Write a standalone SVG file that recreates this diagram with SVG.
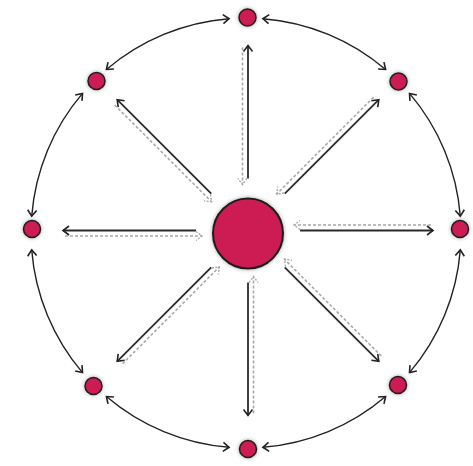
<svg xmlns="http://www.w3.org/2000/svg" width="473" height="466" viewBox="0 0 473 466">
<defs>
<style>
.node{fill:#cc1a52;stroke:#1e1e1e;stroke-width:1.5;filter:url(#glow)}
.arc{fill:none;stroke:#222;stroke-width:1.4;marker-start:url(#ah);marker-end:url(#ah)}
.solid{stroke:#2a2a2a;stroke-width:1.8;marker-end:url(#ah)}
.dash{stroke:#a8a8a8;stroke-width:1.6;stroke-dasharray:3 2;marker-end:url(#ahg)}
</style>
<filter id="glow" x="-50%" y="-50%" width="200%" height="200%">
<feGaussianBlur in="SourceAlpha" stdDeviation="2.2" result="b"/>
<feComponentTransfer in="b" result="s"><feFuncA type="linear" slope="0.35"/></feComponentTransfer>
<feMerge><feMergeNode in="s"/><feMergeNode in="SourceGraphic"/></feMerge>
</filter>
<marker id="ah" viewBox="-8 -6 10 12" refX="0" refY="0" markerWidth="10" markerHeight="12" markerUnits="userSpaceOnUse" orient="auto-start-reverse">
<path d="M-6,-4.5 L0,0 L-6,4.5" fill="none" stroke="#222" stroke-width="1.6"/>
</marker>
<marker id="ahg" viewBox="-8 -6 10 12" refX="0" refY="0" markerWidth="10" markerHeight="12" markerUnits="userSpaceOnUse" orient="auto">
<path d="M-6,-4.5 L0,0 L-6,4.5" fill="none" stroke="#a8a8a8" stroke-width="1.4" stroke-dasharray="2 1.5"/>
</marker>
</defs>
<rect width="473" height="466" fill="#fff"/>
<g id="connectors">
<path class="arc" d="M262.9,18.7 A215,215 0 0 1 385.6,69.5"/>
<path class="arc" d="M409.5,93.4 A215,215 0 0 1 460.3,216.1"/>
<path class="arc" d="M460.3,249.9 A215,215 0 0 1 409.5,372.6"/>
<path class="arc" d="M385.6,396.5 A215,215 0 0 1 262.9,447.3"/>
<path class="arc" d="M229.1,447.3 A215,215 0 0 1 106.4,396.5"/>
<path class="arc" d="M82.5,372.6 A215,215 0 0 1 31.7,249.9"/>
<path class="arc" d="M31.7,216.1 A215,215 0 0 1 82.5,93.4"/>
<path class="arc" d="M106.4,69.5 A215,215 0 0 1 229.1,18.7"/>
<g transform="translate(248,230.5) rotate(0)"><line class="solid" x1="52" y1="0" x2="185" y2="0"/><line class="dash" x1="183" y1="-5.5" x2="46" y2="-5.5"/></g>
<g transform="translate(248,230.5) rotate(45)"><line class="solid" x1="52" y1="0" x2="185" y2="0"/><line class="dash" x1="183" y1="-5.5" x2="46" y2="-5.5"/></g>
<g transform="translate(248,230.5) rotate(90)"><line class="solid" x1="52" y1="0" x2="185" y2="0"/><line class="dash" x1="183" y1="-5.5" x2="46" y2="-5.5"/></g>
<g transform="translate(248,230.5) rotate(135)"><line class="solid" x1="52" y1="0" x2="185" y2="0"/><line class="dash" x1="183" y1="-5.5" x2="46" y2="-5.5"/></g>
<g transform="translate(248,230.5) rotate(180)"><line class="solid" x1="52" y1="0" x2="185" y2="0"/><line class="dash" x1="183" y1="-5.5" x2="46" y2="-5.5"/></g>
<g transform="translate(248,230.5) rotate(225)"><line class="solid" x1="52" y1="0" x2="185" y2="0"/><line class="dash" x1="183" y1="-5.5" x2="46" y2="-5.5"/></g>
<g transform="translate(248,230.5) rotate(270)"><line class="solid" x1="52" y1="0" x2="185" y2="0"/><line class="dash" x1="183" y1="-5.5" x2="46" y2="-5.5"/></g>
<g transform="translate(248,230.5) rotate(315)"><line class="solid" x1="52" y1="0" x2="185" y2="0"/><line class="dash" x1="183" y1="-5.5" x2="46" y2="-5.5"/></g>
</g>
<g id="center"><circle class="node" cx="248" cy="233.5" r="35" style="stroke-width:2"/></g>
<g id="n-top"><circle class="node" cx="247.5" cy="17.5" r="8.5"/></g>
<g id="n-topright"><circle class="node" cx="398.5" cy="81.5" r="8.5"/></g>
<g id="n-right"><circle class="node" cx="460" cy="229" r="8.5"/></g>
<g id="n-bottomright"><circle class="node" cx="398" cy="385" r="8.5"/></g>
<g id="n-bottom"><circle class="node" cx="248" cy="449" r="8.5"/></g>
<g id="n-bottomleft"><circle class="node" cx="93.5" cy="386" r="8.5"/></g>
<g id="n-left"><circle class="node" cx="32" cy="229" r="8.5"/></g>
<g id="n-topleft"><circle class="node" cx="96.5" cy="81" r="8.5"/></g>
</svg>
